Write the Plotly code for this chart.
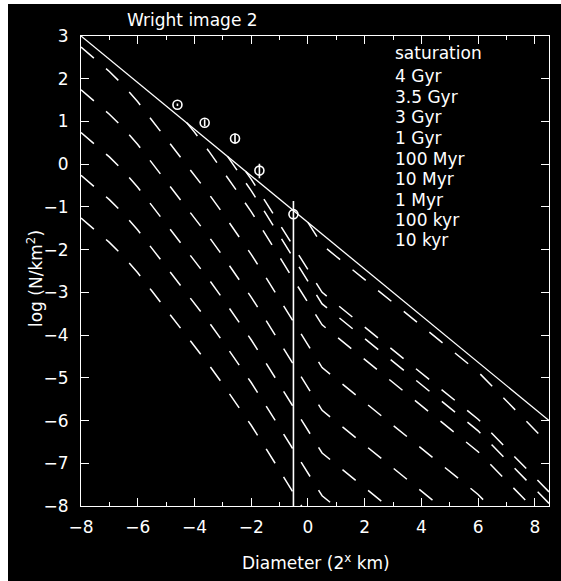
import plotly.graph_objects as go

# ---------------- data ----------------
diam_grid = [-8, -7.5, -7, -6.5, -6, -5.5, -5, -4.5, -4, -3.5, -3, -2.5, -2, -1.5, -1, -0.5,
             0, 0.5, 1, 1.5, 2, 2.5, 3, 3.5, 4, 4.5, 5, 5.5, 6, 6.5, 7, 7.5, 8, 8.5]

sat_x = [-8, 8.5]
sat_y = [3.0, -6.0]

iso_10kyr_y = [-1.26, -1.54, -1.83, -2.16, -2.54, -2.97, -3.40, -3.83, -4.25, -4.69, -5.15,
               -5.63, -6.11, -6.63, -7.17, -7.71, -8.24]
iso_100kyr_y = [-0.26, -0.54, -0.83, -1.16, -1.54, -1.97, -2.40, -2.83, -3.25, -3.69, -4.15,
                -4.63, -5.11, -5.63, -6.17, -6.71, -7.24, -7.76, -8.03]
iso_1Myr_y = [0.74, 0.46, 0.17, -0.16, -0.54, -0.97, -1.40, -1.83, -2.25, -2.69, -3.15,
              -3.63, -4.11, -4.63, -5.17, -5.71, -6.24, -6.76, -7.03, -7.30, -7.57, -7.84, -8.11]
iso_10Myr_y = [1.74, 1.46, 1.17, 0.84, 0.46, 0.03, -0.40, -0.83, -1.25, -1.69, -2.15,
               -2.63, -3.11, -3.63, -4.17, -4.71, -5.24, -5.76, -6.03, -6.30, -6.57, -6.84,
               -7.11, -7.38, -7.65, -7.92, -8.19]
iso_100Myr_y = [2.74, 2.46, 2.17, 1.84, 1.46, 1.03, 0.60, 0.17, -0.25, -0.69, -1.15,
                -1.63, -2.11, -2.63, -3.17, -3.71, -4.24, -4.76, -5.03, -5.30, -5.57, -5.84,
                -6.11, -6.38, -6.65, -6.92, -7.19, -7.46, -7.73, -8.07]

iso_1Gyr_x = [-4.27, -4, -3.5, -3, -2.5, -2, -1.5, -1, -0.5, 0, 0.5, 1, 1.5, 2, 2.5, 3, 3.5,
              4, 4.5, 5, 5.5, 6, 6.5, 7, 7.5, 8]
iso_1Gyr_y = [0.97, 0.75, 0.31, -0.15, -0.63, -1.11, -1.63, -2.17, -2.71, -3.24, -3.76, -4.03,
              -4.30, -4.57, -4.84, -5.11, -5.38, -5.65, -5.92, -6.19, -6.46, -6.73, -7.07,
              -7.41, -7.75, -8.09]

iso_3Gyr_x = [-2.84, -2.5, -2, -1.5, -1, -0.5, 0, 0.5, 1, 1.5, 2, 2.5, 3, 3.5, 4, 4.5, 5, 5.5,
              6, 6.5, 7, 7.5, 8, 8.5]
iso_3Gyr_y = [0.19, -0.14, -0.62, -1.14, -1.68, -2.22, -2.75, -3.27, -3.54, -3.81, -4.08,
              -4.35, -4.62, -4.89, -5.16, -5.43, -5.70, -5.97, -6.24, -6.58, -6.92, -7.26,
              -7.60, -7.94]

iso_35Gyr_x = [-2.19, -2, -1.5, -1, -0.5, 0, 0.5, 1, 1.5, 2, 2.5, 3, 3.5, 4, 4.5, 5, 5.5, 6,
               6.5, 7, 7.5, 8, 8.5]
iso_35Gyr_y = [-0.17, -0.35, -0.87, -1.41, -1.95, -2.48, -3.00, -3.27, -3.54, -3.81, -4.08,
               -4.35, -4.62, -4.89, -5.16, -5.43, -5.70, -5.97, -6.31, -6.65, -6.99, -7.33,
               -7.67]

iso_4Gyr_x = [0, 0.5, 1, 1.5, 2, 2.5, 3, 3.5, 4, 4.5, 5, 5.5, 6, 6.5, 7, 7.5, 8, 8.5]
iso_4Gyr_y = [-1.36, -1.89, -2.16, -2.43, -2.70, -2.97, -3.24, -3.51, -3.78, -4.05, -4.32,
              -4.59, -4.86, -5.20, -5.54, -5.88, -6.22, -6.56]

pts_x = [-4.6, -3.64, -2.57, -1.71, -0.51]
pts_y = [1.39, 0.97, 0.60, -0.15, -1.17]
pts_err_up = [0.03, 0.08, 0.12, 0.16, 0.31]
pts_err_dn = [0.03, 0.08, 0.12, 0.18, 6.83]

legend_labels = ["saturation", "4 Gyr", "3.5 Gyr", "3 Gyr", "1 Gyr", "100 Myr",
                 "10 Myr", "1 Myr", "100 kyr", "10 kyr"]
legend_y = [2.60, 2.064, 1.58, 1.104, 0.613, 0.128, -0.354, -0.845, -1.313, -1.781]
legend_x = 3.0

x_ticks = [-8, -6, -4, -2, 0, 2, 4, 6, 8]
y_ticks = [-8, -7, -6, -5, -4, -3, -2, -1, 0, 1, 2, 3]

# ---------------- figure ----------------
FONT = "DejaVu Sans"
fig = go.Figure()

dash_style = dict(color="white", width=1.5, dash="17px,16px")

fig.add_trace(go.Scatter(x=sat_x, y=sat_y, mode="lines",
                         line=dict(color="white", width=1.3), showlegend=False))

series = [
    (diam_grid[:len(iso_10kyr_y)], iso_10kyr_y),
    (diam_grid[:len(iso_100kyr_y)], iso_100kyr_y),
    (diam_grid[:len(iso_1Myr_y)], iso_1Myr_y),
    (diam_grid[:len(iso_10Myr_y)], iso_10Myr_y),
    (diam_grid[:len(iso_100Myr_y)], iso_100Myr_y),
    (iso_1Gyr_x, iso_1Gyr_y),
    (iso_3Gyr_x, iso_3Gyr_y),
    (iso_35Gyr_x, iso_35Gyr_y),
    (iso_4Gyr_x, iso_4Gyr_y),
]
for sx, sy in series:
    fig.add_trace(go.Scatter(x=sx, y=sy, mode="lines", line=dash_style, showlegend=False))

fig.add_trace(go.Scatter(
    x=pts_x, y=pts_y, mode="markers",
    marker=dict(symbol="circle-open", size=9, color="white", line=dict(width=1.6, color="white")),
    error_y=dict(type="data", symmetric=False, array=pts_err_up, arrayminus=pts_err_dn,
                 color="white", thickness=1.6, width=0),
    showlegend=False))

for lab, ly in zip(legend_labels, legend_y):
    fig.add_annotation(x=legend_x, y=ly, xref="x", yref="y", text=lab, showarrow=False,
                       xanchor="left", yanchor="middle",
                       font=dict(family=FONT, size=17, color="white"))

# layout in reference-page pixels; page offset (8, 4) is the white page margin
OX, OY = 8, 4
L, R, T, B = 81, 549, 36, 506
W, H = 561 - OX, 581 - OY
pw, ph = R - L, B - T


def px(xp):
    return (xp - L) / pw


def py(yp):
    return (B - yp) / ph


fig.add_annotation(x=px(192), y=py(20), xref="paper", yref="paper", text="Wright image 2",
                   showarrow=False, xanchor="center", yanchor="middle",
                   font=dict(family=FONT, size=17, color="white"))
fig.add_annotation(x=px(316), y=py(562), xref="paper", yref="paper",
                   text="Diameter (2<sup>x</sup> km)", showarrow=False,
                   xanchor="center", yanchor="middle",
                   font=dict(family=FONT, size=17, color="white"))
fig.add_annotation(x=px(35), y=py(279), xref="paper", yref="paper",
                   text="log (N/km<sup>2</sup>)", showarrow=False, textangle=-90,
                   xanchor="center", yanchor="middle",
                   font=dict(family=FONT, size=17, color="white"))

axis_common = dict(showgrid=False, zeroline=False, showline=True, linecolor="white",
                   linewidth=1.2, mirror="ticks", ticks="inside", ticklen=8, tickwidth=1.2,
                   tickcolor="white", tickfont=dict(family=FONT, size=17, color="white"))

fig.update_xaxes(range=[-8, 8.5], tickvals=x_ticks, ticklabelstandoff=5,
                 minor=dict(dtick=1, tick0=0, ticks="inside", ticklen=4, tickcolor="white",
                            tickwidth=1.2, showgrid=False),
                 **axis_common)
fig.update_yaxes(range=[-8, 3], tickvals=y_ticks, ticklabelstandoff=8, **axis_common)

fig.update_layout(width=W, height=H,
                  margin=dict(l=L - OX, r=561 - R, t=T - OY, b=581 - B),
                  paper_bgcolor="black", plot_bgcolor="black", showlegend=False,
                  font=dict(family=FONT, color="white"))

fig.write_html("out.html",
               post_script="document.body.style.margin='4px 0 0 8px';")
